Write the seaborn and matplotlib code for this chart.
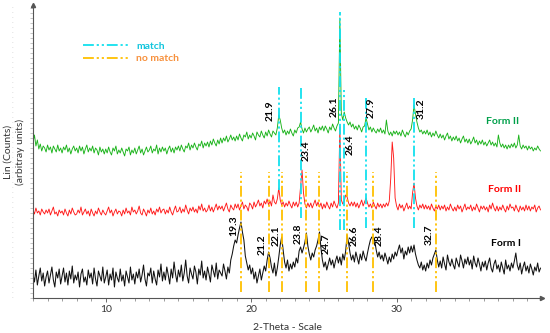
import numpy as np
import pandas as pd
import seaborn as sns
import matplotlib.pyplot as plt
from matplotlib.lines import Line2D

sns.set_style("ticks")
plt.rcParams["font.family"] = ["Lato", "DejaVu Sans"]

# 2-theta grid, 0.1 deg steps
two_theta = np.round(np.arange(5.0, 40.0, 0.1), 1)

# Form II (top, green), one row per degree
green = [
    156, 163, 152, 158, 149, 154, 147, 152, 150, 146,
    153, 148, 151, 145, 152, 149, 146, 153, 147, 150,
    145, 151, 148, 153, 146, 150, 144, 149, 152, 147,
    150, 145, 152, 147, 151, 144, 149, 153, 146, 150,
    147, 152, 145, 150, 148, 143, 151, 146, 149, 144,
    149, 145, 151, 146, 143, 150, 147, 152, 144, 148,
    145, 150, 146, 142, 149, 147, 151, 143, 148, 145,
    150, 144, 148, 152, 145, 149, 143, 147, 151, 146,
    148, 152, 145, 149, 147, 153, 144, 150, 146, 151,
    147, 150, 144, 149, 152, 146, 150, 145, 151, 148,
    152, 147, 153, 149, 146, 152, 150, 155, 148, 153,
    150, 155, 151, 148, 154, 152, 157, 150, 155, 152,
    156, 151, 157, 153, 159, 155, 152, 158, 154, 160,
    155, 160, 157, 162, 156, 159, 163, 158, 161, 157,
    162, 158, 164, 160, 157, 163, 161, 166, 159, 163,
    160, 165, 162, 158, 166, 163, 161, 167, 163, 160,
    166, 162, 168, 164, 161, 167, 165, 163, 170, 183,
    178, 170, 165, 168, 163, 167, 164, 169, 165, 162,
    168, 165, 170, 171, 176, 169, 165, 170, 166, 169,
    171, 166, 169, 173, 167, 170, 165, 171, 168, 172,
    167, 172, 169, 165, 171, 168, 174, 170, 167, 172,
    175, 280, 185, 178, 186, 180, 176, 173, 176, 171,
    174, 169, 172, 168, 173, 170, 166, 171, 172, 180,
    174, 168, 171, 166, 170, 167, 165, 169, 166, 170,
    165, 168, 164, 178, 167, 163, 166, 162, 167, 164,
    167, 163, 166, 162, 168, 164, 161, 166, 163, 167,
    169, 178, 193, 184, 176, 170, 166, 168, 164, 167,
    164, 168, 163, 166, 161, 165, 162, 167, 163, 160,
    164, 160, 163, 158, 162, 165, 159, 162, 157, 161,
    158, 162, 157, 160, 155, 159, 162, 156, 159, 155,
    159, 154, 157, 161, 155, 158, 153, 157, 154, 158,
    153, 156, 152, 155, 158, 153, 156, 152, 155, 151,
    163, 155, 151, 154, 150, 153, 149, 153, 150, 154,
    151, 155, 150, 153, 163, 152, 149, 153, 150, 152,
    148, 152, 149, 151, 147, 150, 148, 152, 149, 147,
]

# Form II (middle, red)
red = [
    88, 84, 90, 85, 87, 83, 89, 86, 84, 88,
    85, 89, 83, 87, 91, 84, 86, 82, 88, 85,
    87, 83, 89, 85, 82, 88, 84, 90, 86, 83,
    84, 88, 85, 91, 83, 86, 89, 84, 87, 82,
    89, 85, 82, 87, 84, 90, 86, 83, 88, 85,
    83, 87, 91, 85, 88, 82, 86, 89, 84, 87,
    86, 82, 88, 84, 90, 85, 87, 83, 91, 86,
    88, 84, 87, 92, 85, 83, 89, 86, 82, 88,
    85, 90, 84, 87, 83, 89, 86, 91, 85, 88,
    89, 84, 88, 85, 91, 86, 83, 88, 92, 86,
    87, 91, 85, 89, 86, 93, 88, 84, 90, 87,
    91, 86, 89, 85, 92, 88, 94, 87, 90, 86,
    88, 93, 87, 91, 86, 90, 94, 88, 92, 89,
    92, 87, 91, 95, 89, 86, 93, 90, 88, 94,
    90, 94, 88, 92, 96, 89, 93, 91, 87, 95,
    93, 89, 96, 91, 94, 98, 92, 95, 90, 97,
    94, 99, 93, 97, 92, 103, 96, 94, 99, 110,
    98, 93, 96, 91, 95, 92, 97, 93, 90, 96,
    92, 96, 91, 95, 112, 128, 105, 94, 90, 95,
    91, 95, 90, 94, 98, 92, 96, 91, 95, 89,
    94, 90, 96, 92, 89, 95, 91, 97, 93, 90,
    95, 171, 98, 94, 97, 103, 101, 95, 92, 96,
    92, 96, 91, 95, 90, 94, 98, 92, 96, 100,
    95, 91, 94, 90, 96, 92, 89, 95, 91, 94,
    90, 94, 91, 95, 92, 97, 120, 156, 140, 100,
    92, 88, 94, 90, 93, 87, 91, 95, 89, 92,
    89, 105, 115, 100, 92, 88, 93, 90, 94, 89,
    93, 89, 92, 88, 94, 90, 87, 92, 89, 93,
    88, 92, 89, 93, 87, 91, 88, 94, 90, 87,
    91, 87, 93, 89, 92, 86, 90, 94, 88, 91,
    89, 93, 87, 91, 88, 94, 90, 86, 92, 89,
    92, 88, 91, 86, 93, 89, 95, 90, 87, 92,
    87, 91, 88, 93, 89, 86, 92, 88, 94, 90,
    91, 87, 93, 89, 86, 92, 88, 91, 87, 93,
    88, 92, 87, 91, 89, 93, 86, 90, 92, 88,
]

# Form I (bottom, black)
black = [
    24, 16, 28, 13, 22, 30, 17, 25, 12, 21,
    27, 15, 23, 31, 18, 11, 26, 20, 29, 14,
    22, 30, 16, 25, 13, 27, 19, 32, 15, 23,
    18, 26, 11, 24, 29, 16, 21, 13, 28, 20,
    25, 14, 30, 19, 12, 27, 22, 17, 31, 15,
    21, 28, 13, 24, 18, 30, 11, 26, 20, 16,
    29, 17, 23, 12, 27, 21, 15, 31, 18, 24,
    14, 26, 20, 29, 16, 23, 33, 19, 12, 25,
    22, 30, 15, 27, 19, 13, 28, 21, 34, 17,
    26, 18, 31, 23, 14, 29, 20, 36, 24, 16,
    28, 21, 33, 17, 25, 38, 22, 15, 30, 24,
    19, 32, 26, 14, 29, 23, 37, 20, 27, 18,
    31, 24, 16, 33, 27, 21, 35, 19, 28, 25,
    22, 34, 27, 19, 31, 25, 38, 44, 52, 58,
    55, 63, 70, 76, 66, 58, 42, 35, 28, 33,
    24, 30, 19, 26, 15, 22, 29, 18, 25, 32,
    27, 38, 46, 40, 31, 25, 35, 22, 30, 41,
    53, 61, 48, 36, 30, 38, 27, 34, 29, 36,
    31, 40, 35, 47, 51, 45, 50, 56, 65, 52,
    44, 38, 45, 41, 48, 52, 58, 66, 50, 38,
    31, 36, 28, 34, 40, 33, 38, 30, 37, 42,
    35, 41, 33, 44, 38, 47, 63, 55, 45, 38,
    43, 36, 46, 40, 34, 44, 38, 47, 41, 37,
    45, 52, 58, 61, 60, 57, 48, 41, 46, 39,
    43, 37, 45, 40, 34, 41, 36, 44, 39, 46,
    42, 48, 53, 45, 50, 39, 47, 43, 51, 45,
    52, 46, 53, 44, 38, 33, 30, 36, 28, 33,
    27, 35, 30, 38, 33, 40, 44, 48, 38, 31,
    37, 30, 41, 34, 28, 43, 36, 32, 39, 33,
    29, 40, 35, 31, 43, 37, 30, 39, 34, 41,
    33, 38, 29, 42, 35, 31, 40, 34, 27, 36,
    31, 37, 28, 35, 40, 30, 26, 34, 38, 29,
    33, 26, 36, 30, 24, 38, 29, 33, 27, 35,
    30, 37, 45, 33, 28, 35, 24, 31, 36, 27,
    32, 25, 34, 29, 23, 31, 27, 35, 26, 30,
]

# matching reflections (cyan) and non-matching ones (orange)
match_peaks = [21.9, 23.4, 26.1, 26.4, 27.9, 31.2]
match_top = [211, 210, 286, 208, 201, 201]
match_bottom = [108, 80, 68, 68, 70, 70]
nomatch_peaks = [19.3, 21.2, 22.1, 23.8, 24.7, 26.6, 28.4, 32.7]
nomatch_top = 126
nomatch_bottom = 6

# label placement (offset from the peak, label height)
match_dx = [-0.59, 0.41, -0.40, 0.44, 0.38, 0.52]
match_y = [187, 147, 191, 153, 190, 189]
nomatch_dx = [-0.50, -0.41, -0.35, -0.60, 0.49, 0.51, 0.40, -0.43]
nomatch_y = [72, 53, 62, 64, 54, 62, 62, 63]

df = pd.DataFrame({"two_theta": two_theta, "green": green, "red": red, "black": black})

cyan = "#13e0ee"
gold = "#ffc000"
dashdotdot = (0, (6, 1.6, 1.2, 1.6, 1.2, 1.6))
fs = 7.5

fig = plt.figure(figsize=(5.5, 3.33), dpi=100)
ax = fig.add_axes([33 / 550, 1 - 298 / 333, 509 / 550, 293 / 333])

sns.lineplot(data=df, x="two_theta", y="green", ax=ax, color="#1ab31a", lw=0.65, estimator=None)
sns.lineplot(data=df, x="two_theta", y="red", ax=ax, color="#ff1a1a", lw=0.65, estimator=None)
sns.lineplot(data=df, x="two_theta", y="black", ax=ax, color="#111111", lw=0.75, estimator=None)

ax.vlines(match_peaks, match_bottom, match_top, colors=cyan, lw=1.3, linestyles=[dashdotdot])
ax.vlines(nomatch_peaks, nomatch_bottom, nomatch_top, colors=gold, lw=1.3, linestyles=[dashdotdot])

for p, dx, y in zip(match_peaks, match_dx, match_y):
    ax.text(p + dx, y, f"{p:.1f}", rotation=90, ha="center", va="center",
            fontsize=fs, fontweight="bold", color="black")
for p, dx, y in zip(nomatch_peaks, nomatch_dx, nomatch_y):
    ax.text(p + dx, y, f"{p:.1f}", rotation=90, ha="center", va="center",
            fontsize=fs, fontweight="bold", color="black")

ax.text(37.3, 176, "Form II", ha="center", va="center", fontsize=fs, fontweight="bold", color="#00a04a")
ax.text(37.4, 108, "Form II", ha="center", va="center", fontsize=fs, fontweight="bold", color="#ff0000")
ax.text(37.5, 55, "Form I", ha="center", va="center", fontsize=fs, fontweight="bold", color="black")

handles = [Line2D([], [], color=cyan, lw=1.3, ls=dashdotdot),
           Line2D([], [], color=gold, lw=1.3, ls=dashdotdot)]
leg = ax.legend(handles, ["match", "no match"], loc="upper left", bbox_to_anchor=(0.098, 0.875),
                frameon=False, fontsize=fs, handlelength=4.3, handletextpad=0.8,
                borderpad=0, borderaxespad=0, labelspacing=0.3)
leg.get_texts()[0].set_color("#11c5dd")
leg.get_texts()[1].set_color("#f7913d")
for t in leg.get_texts():
    t.set_fontweight("bold")

ax.set_xlim(5, 40)
ax.set_ylim(0, 293)
ax.set_xticks([10, 20, 30])
ax.set_xticks(np.arange(5, 40, 1), minor=True)
ax.set_yticks(np.arange(0, 293, 5))
ax.set_yticklabels(["-"] * len(np.arange(0, 293, 5)), color="#cccccc", fontsize=3)
ax.tick_params(axis="x", labelsize=fs, length=3, width=0.6, colors="#555555", labelcolor="#333333", pad=2)
ax.tick_params(axis="x", which="minor", length=2, width=0.5, colors="#777777")
ax.tick_params(axis="y", length=2, width=0.4, colors="#999999", pad=12)
sns.despine(ax=ax)
for s in ("left", "bottom"):
    ax.spines[s].set_color("#555555")
    ax.spines[s].set_linewidth(0.8)

ax.plot(0, 1, marker="^", color="#555555", ms=3, transform=ax.transAxes, clip_on=False)
ax.plot(1, 0, marker=">", color="#555555", ms=3, transform=ax.transAxes, clip_on=False)

ax.set_xlabel("2-Theta - Scale", fontsize=fs, color="#333333")
ax.xaxis.set_label_coords(0.5, -0.085)
ax.set_ylabel("Lin (Counts)\n(arbitray units)", fontsize=fs, color="#333333", linespacing=1.3)
ax.yaxis.set_label_coords(-0.016, 0.5)

fig.savefig("out.png", dpi=100)
